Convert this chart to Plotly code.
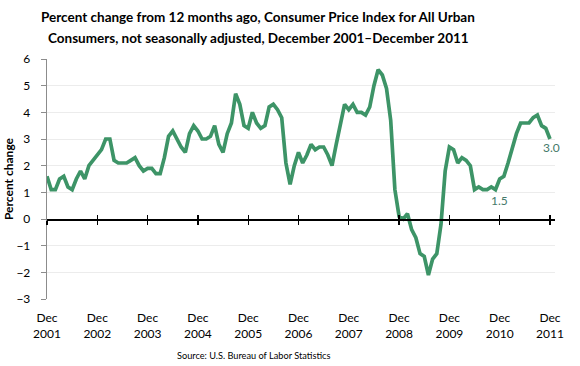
import plotly.graph_objects as go

# Monthly 12-month percent change, CPI-U, Dec 2001 - Dec 2011
years = [2001, 2002, 2003, 2004, 2005, 2006, 2007, 2008, 2009, 2010, 2011]
tick_labels = [f"Dec<br>{y}" for y in years]

values = [
    1.6,
    1.1, 1.1, 1.5, 1.6, 1.2, 1.1, 1.5, 1.8, 1.5, 2.0, 2.2, 2.4,   # 2002
    2.6, 3.0, 3.0, 2.2, 2.1, 2.1, 2.1, 2.2, 2.3, 2.0, 1.8, 1.9,   # 2003
    1.9, 1.7, 1.7, 2.3, 3.1, 3.3, 3.0, 2.7, 2.5, 3.2, 3.5, 3.3,   # 2004
    3.0, 3.0, 3.1, 3.5, 2.8, 2.5, 3.2, 3.6, 4.7, 4.3, 3.5, 3.4,   # 2005
    4.0, 3.6, 3.4, 3.5, 4.2, 4.3, 4.1, 3.8, 2.1, 1.3, 2.0, 2.5,   # 2006
    2.1, 2.4, 2.8, 2.6, 2.7, 2.7, 2.4, 2.0, 2.8, 3.5, 4.3, 4.1,   # 2007
    4.3, 4.0, 4.0, 3.9, 4.2, 5.0, 5.6, 5.4, 4.9, 3.7, 1.1, 0.1,   # 2008
    0.0, 0.2, -0.4, -0.7, -1.3, -1.4, -2.1, -1.5, -1.3, -0.2, 1.8, 2.7,  # 2009
    2.6, 2.1, 2.3, 2.2, 2.0, 1.1, 1.2, 1.1, 1.1, 1.2, 1.1, 1.5,   # 2010
    1.6, 2.1, 2.7, 3.2, 3.6, 3.6, 3.6, 3.8, 3.9, 3.5, 3.4, 3.0,   # 2011
]
months = list(range(len(values)))  # months since Dec 2001
tick_vals = [12 * i for i in range(len(years))]

y_ticks = list(range(-3, 7))

title_lines = [
    "Percent change from 12 months ago, Consumer Price Index for All Urban",
    "Consumers, not seasonally adjusted, December 2001\u2013December 2011",
]
source_text = "Source: U.S. Bureau of Labor Statistics"

line_color = "#3d9467"
label_color = "#45796a"
font = "Lato"

fig = go.Figure()
fig.add_trace(go.Scatter(
    x=months, y=values, mode="lines",
    line=dict(color=line_color, width=3.7),
    hoverinfo="skip", showlegend=False,
))
# dummy traces to activate the overlay axes
fig.add_trace(go.Scatter(x=[months[0]], y=[0], xaxis="x2", mode="none", showlegend=False, hoverinfo="skip"))
fig.add_trace(go.Scatter(x=[months[0]], y=[0], xaxis="x3", mode="none", showlegend=False, hoverinfo="skip"))

yr = [-3, 6]
ydom = [0, 1]
zero_pos = ydom[0] + (0 - yr[0]) / (yr[1] - yr[0]) * (ydom[1] - ydom[0])
xr = [0, 121.2]

L, R, T, B = 47, 25, 59, 67
W, H = 580, 366
pw, ph = W - L - R, H - T - B


def px_x(x):
    return (x - L) / pw


def px_y(y):
    return (H - B - y) / ph


annotations = [
    dict(x=months[108], y=values[108], text="1.5", showarrow=False,
         xref="x", yref="y", yshift=-21, xshift=0,
         font=dict(size=12, color=label_color, family=font)),
    dict(x=months[120], y=values[120], text="3.0", showarrow=False,
         xref="x", yref="y", yshift=-8, xshift=2,
         font=dict(size=12, color=label_color, family=font)),
    dict(x=px_x(253), y=px_y(355), xref="paper", yref="paper",
         text=source_text, showarrow=False,
         xanchor="center", yanchor="middle",
         font=dict(size=9.2, color="#000000", family=font)),
]
for text, yc in zip(title_lines, [17, 38]):
    annotations.append(dict(
        x=px_x(258), y=px_y(yc), xref="paper", yref="paper", text=f"<b>{text}</b>",
        showarrow=False, xanchor="center", yanchor="middle",
        font=dict(size=13.5, color="#000000", family=font),
    ))

fig.update_layout(
    width=W, height=H,
    margin=dict(l=L, r=R, t=T, b=B, autoexpand=False),
    paper_bgcolor="white", plot_bgcolor="white",
    font=dict(family=font, color="#000000"),
    xaxis=dict(
        range=xr, tickmode="array", tickvals=tick_vals, ticktext=tick_labels,
        showgrid=False, zeroline=False, showline=False, ticks="",
        tickfont=dict(size=12, color="#000000"), ticklabelstandoff=10,
        automargin=False,
    ),
    xaxis2=dict(
        overlaying="x", anchor="free", position=zero_pos, side="bottom",
        range=xr, tickmode="array", tickvals=tick_vals,
        showticklabels=False, showgrid=False, zeroline=False,
        showline=True, linecolor="#000000", linewidth=1.5,
        ticks="outside", ticklen=4.5, tickwidth=1.3, tickcolor="#000000",
        automargin=False,
    ),
    xaxis3=dict(
        overlaying="x", anchor="free", position=zero_pos, side="bottom",
        range=xr, tickmode="array", tickvals=tick_vals,
        showticklabels=False, showgrid=False, zeroline=False, showline=False,
        ticks="inside", ticklen=4.5, tickwidth=1.3, tickcolor="#000000",
        automargin=False,
    ),
    yaxis=dict(
        range=yr, tickmode="array", tickvals=y_ticks,
        showgrid=True, gridcolor="#ececec", gridwidth=1,
        zeroline=False,
        showline=True, linecolor="#8c8c8c", linewidth=1.3,
        ticks="outside", ticklen=5, tickcolor="#8c8c8c",
        tickfont=dict(size=12, color="#000000"), ticklabelstandoff=8,
        title=dict(text="Percent change", font=dict(size=12, color="#000000", weight="bold"), standoff=0),
        automargin=False,
    ),
    annotations=annotations,
)
fig.write_html(
    "out.html",
    config={"displayModeBar": False, "staticPlot": True},
    post_script="document.body.style.margin='0';document.body.style.overflow='hidden';",
)
